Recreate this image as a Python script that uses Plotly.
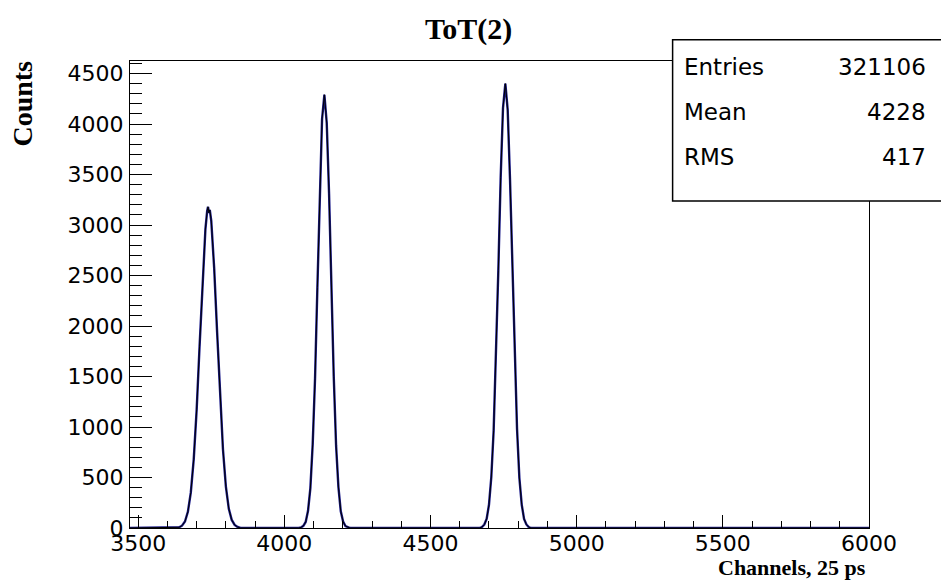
import plotly.graph_objects as go

# ---- data ----
peak1_x = [3640, 3650, 3660, 3670, 3680, 3690, 3700, 3710, 3720, 3730, 3736, 3739, 3742, 3745,
           3750, 3760, 3770, 3780, 3790, 3800, 3810, 3820, 3830, 3840, 3850]
peak1_counts = [7, 23, 64, 160, 350, 680, 1170, 1800, 2450, 2960, 3140, 3180, 3120, 3150,
                3040, 2570, 1940, 1300, 780, 410, 190, 80, 30, 10, 0]

peak2_x = [4049, 4057, 4065, 4073, 4081, 4089, 4097, 4105, 4113, 4121, 4129, 4137, 4145, 4153,
           4161, 4169, 4177, 4185, 4193, 4201, 4209, 4217, 4225]
peak2_counts = [0, 6, 21, 60, 170, 395, 830, 1480, 2380, 3290, 4050, 4290, 4010, 3310,
                2360, 1500, 815, 405, 165, 64, 19, 7, 0]

peak3_x = [4668, 4676, 4684, 4692, 4700, 4708, 4716, 4724, 4732, 4740, 4748, 4756, 4764, 4772,
           4780, 4788, 4796, 4804, 4812, 4820, 4828, 4836, 4844]
peak3_counts = [0, 10, 34, 90, 230, 505, 965, 1680, 2550, 3470, 4160, 4400, 4140, 3450,
                2570, 1665, 980, 495, 232, 90, 35, 9, 0]

edge_x = [3472, 6000]
edge_counts = [0, 0]

x_range = [3472, 6000]
y_range = [0, 4624]
x_ticks = [3500, 4000, 4500, 5000, 5500, 6000]
y_ticks = [0, 500, 1000, 1500, 2000, 2500, 3000, 3500, 4000, 4500]

stats_labels = ["Entries", "Mean", "RMS"]
stats_values = ["321106", "4228", "417"]

title_text = "ToT(2)"
x_title = "Channels, 25 ps"
y_title = "Counts"

# ---- assemble ----
xs = [edge_x[0]] + peak1_x + peak2_x + peak3_x + [edge_x[1]]
ys = [edge_counts[0]] + peak1_counts + peak2_counts + peak3_counts + [edge_counts[1]]

fig = go.Figure()
fig.add_trace(go.Scatter(x=xs, y=ys, mode="lines", line=dict(color="#1c1c8a", width=2.4),
                         hoverinfo="skip", showlegend=False))
fig.add_trace(go.Scatter(x=xs, y=ys, mode="lines", line=dict(color="black", width=1.0),
                         hoverinfo="skip", showlegend=False))

tickfont = dict(family="DejaVu Sans", size=22, color="black")
axis_common = dict(showline=True, linecolor="black", linewidth=1, mirror=True,
                   showgrid=False, zeroline=False, ticks="inside", tickcolor="black",
                   tickwidth=1, tickfont=tickfont)

fig.update_xaxes(range=x_range, tickvals=x_ticks, ticklen=13,
                 minor=dict(ticks="inside", dtick=100, tick0=3500, ticklen=7, tickcolor="black", tickwidth=1),
                 ticklabelstandoff=-4, **axis_common)
fig.update_yaxes(range=y_range, tickvals=y_ticks, ticklen=22,
                 minor=dict(ticks="inside", dtick=100, tick0=0, ticklen=12, tickcolor="black", tickwidth=1),
                 ticklabelstandoff=1, **axis_common)

L, R, T, B = 129.5, 869.3, 60.5, 528.0
W, H = 941, 587
pw, ph = R - L, B - T

def px(x):
    return (x - L) / pw

def py(y):
    return (B - y) / ph

annotations = []
annotations.append(dict(text="<b>" + title_text + "</b>", x=px(468), y=py(28), xref="paper", yref="paper",
                        xanchor="center", yanchor="middle", showarrow=False,
                        font=dict(family="Liberation Serif", size=30, color="black")))
annotations.append(dict(text="<b>" + y_title + "</b>", x=px(22), y=py(103.5), xref="paper", yref="paper",
                        xanchor="center", yanchor="middle", textangle=-90, showarrow=False,
                        font=dict(family="Liberation Serif", size=28, color="black")))
annotations.append(dict(text="<b>" + x_title + "</b>", x=px(868), y=py(568), xref="paper", yref="paper",
                        xanchor="right", yanchor="middle", showarrow=False,
                        font=dict(family="Liberation Serif", size=22, color="black")))

row_y = [66.7, 112, 157]
statfont = dict(family="DejaVu Sans", size=23, color="black")
for lab, val, ry in zip(stats_labels, stats_values, row_y):
    annotations.append(dict(text=lab, x=px(681.7), y=py(ry), xref="paper", yref="paper",
                            xanchor="left", yanchor="middle", showarrow=False, font=statfont))
    annotations.append(dict(text=val, x=px(928.3), y=py(ry), xref="paper", yref="paper",
                            xanchor="right", yanchor="middle", showarrow=False, font=statfont))

fig.add_shape(type="rect", xref="paper", yref="paper", x0=px(672.7), x1=px(945), y0=py(200.7), y1=py(39.3),
              line=dict(color="black", width=1.5), fillcolor="white", layer="above")

fig.update_layout(width=W, height=H, margin=dict(l=L, r=W - R, t=T, b=H - B),
                  paper_bgcolor="white", plot_bgcolor="white", annotations=annotations,
                  showlegend=False)

fig.write_html("out.html", config={"displayModeBar": False},
               post_script="document.body.style.margin='0';document.body.style.padding='0';")
